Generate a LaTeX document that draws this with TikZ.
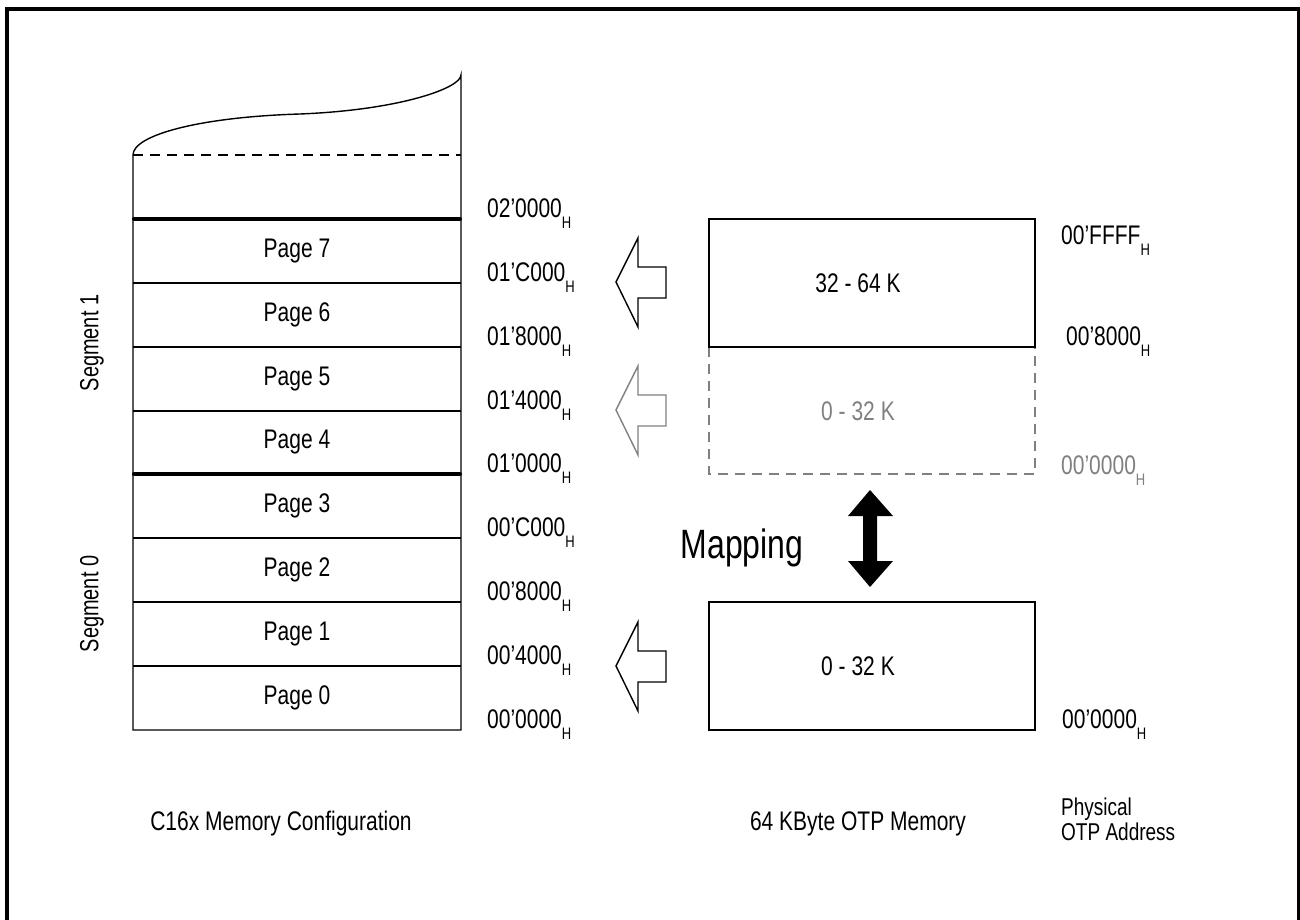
\documentclass[tikz,border=0pt]{standalone}
\usepackage{fontspec}
\usepackage{graphicx}
\setmainfont{Liberation Sans}
\newcommand{\st}[1]{\scalebox{1}[1.28]{#1}}
\newcommand{\Hsub}{\raisebox{-9pt}{\fontsize{13}{13}\selectfont H}}
\begin{document}
\begin{tikzpicture}[x=1pt,y=-1pt,
  font=\fontsize{21}{25}\selectfont,
  ln/.style={line width=1.4pt, line join=miter},
  thickln/.style={line width=4pt, line cap=round},
  dimgray/.style={color=black!50},
  addr/.style={anchor=base west, inner sep=0pt},
  txt/.style={inner sep=0pt},
  hollow/.pic={\draw[ln, pic actions] (0,0) -- (22,-44) -- (22,-15) -- (50,-15) -- (50,16) -- (22,16) -- (22,45) -- cycle;}
]
\useasboundingbox (0,0) rectangle (1300,920);
\begin{scope}
  \clip (0,0) rectangle (1300,920);
  \draw[line width=4pt] (7,9) rectangle (1299,940);
\end{scope}

% memory column
\coordinate (mtl) at (133,155);
\coordinate (mtr) at (461,75);
\coordinate (mbl) at (133,730);
\coordinate (mbr) at (461,730);
\draw[ln] (mbl) -- (mtl) .. controls (133,135) and (200,117) .. (300,114)
  .. controls (400,110) and (461,88) .. (mtr) -- (mbr) -- cycle;
\draw[ln, dash pattern=on 10pt off 7pt] (133,155) -- (461,155);
\foreach \yy in {283,347,411,538,602,666} \draw[ln] (133,\yy) -- (461,\yy);
\draw[thickln] (134,219) -- (460,219);
\draw[thickln] (134,474) -- (460,474);

\node[txt] (p7) at (297,251) {\st{Page 7}};
\node[txt] (p6) at (297,315) {\st{Page 6}};
\node[txt] (p5) at (297,379) {\st{Page 5}};
\node[txt] (p4) at (297,442) {\st{Page 4}};
\node[txt] (p3) at (297,506) {\st{Page 3}};
\node[txt] (p2) at (297,570) {\st{Page 2}};
\node[txt] (p1) at (297,634) {\st{Page 1}};
\node[txt] (p0) at (297,698) {\st{Page 0}};

\node[txt, rotate=90] (s1) at (92,343) {\scalebox{0.95}[1.25]{Segment 1}};
\node[txt, rotate=90] (s0) at (92,604) {\scalebox{0.95}[1.25]{Segment 0}};

\node[addr] (a9) at (487,217) {\st{02’0000}\st{\Hsub}};
\node[addr] (a8) at (487,281) {\st{01’C000}\st{\Hsub}};
\node[addr] (a7) at (487,345) {\st{01’8000}\st{\Hsub}};
\node[addr] (a6) at (487,409) {\st{01’4000}\st{\Hsub}};
\node[addr] (a5) at (487,472) {\st{01’0000}\st{\Hsub}};
\node[addr] (a4) at (487,536) {\st{00’C000}\st{\Hsub}};
\node[addr] (a3) at (487,600) {\st{00’8000}\st{\Hsub}};
\node[addr] (a2) at (487,664) {\st{00’4000}\st{\Hsub}};
\node[addr] (a1) at (487,728) {\st{00’0000}\st{\Hsub}};

% OTP boxes
\draw[ln, dimgray, dash pattern=on 10pt off 7pt] (709,347) rectangle (1035,474);
\draw[ln] (709,219) rectangle (1035,347);
\draw[ln] (709,602) rectangle (1035,730);
\node[txt] (hi) at (858,283) {\st{32 - 64 K}};
\node[txt, dimgray] (lo) at (858,411) {\st{0 - 32 K}};
\node[txt] (lo2) at (858,666) {\st{0 - 32 K}};

\node[addr] (r1) at (1061,244) {\st{00’FFFF}\st{\Hsub}};
\node[addr] (r2) at (1066,345) {\st{00’8000}\st{\Hsub}};
\node[addr, dimgray] (r3) at (1061,474) {\st{00’0000}\st{\Hsub}};
\node[addr] (r4) at (1062,728) {\st{00’0000}\st{\Hsub}};

% hollow arrows
\pic at (616,282) {hollow};
\pic[dimgray] at (616,410) {hollow};
\pic at (616,666) {hollow};

% mapping
\fill (870,490) -- (893,516) -- (877,516) -- (877,561) -- (893,561) -- (870,587)
  -- (848,561) -- (863,561) -- (863,516) -- (848,516) -- cycle;
\node[txt] (map) at (742,548) {\fontsize{32}{36}\selectfont\st{Mapping}};

% captions
\node[txt, anchor=base] (c1) at (281,830) {\st{C16x Memory Configuration}};
\node[txt, anchor=base] (c2) at (858,830) {\st{64 KByte OTP Memory}};
\node[txt, anchor=base west, font=\fontsize{19}{25}\selectfont] (c3) at (1061,815) {\st{Physical}};
\node[txt, anchor=base west, font=\fontsize{19}{25}\selectfont] (c4) at (1061,840) {\st{OTP Address}};
\end{tikzpicture}
\end{document}
